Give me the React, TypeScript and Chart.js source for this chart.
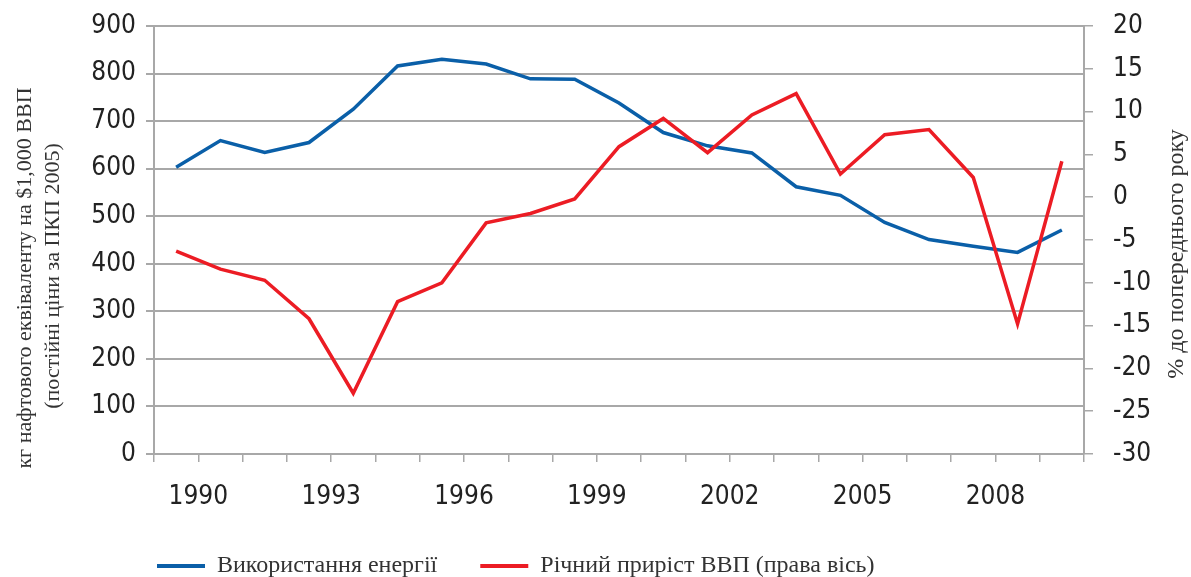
import React, { useEffect, useRef } from "react";
import { Chart, registerables } from "chart.js";

Chart.register(...registerables);

const years = [1990, 1991, 1992, 1993, 1994, 1995, 1996, 1997, 1998, 1999, 2000, 2001, 2002, 2003, 2004, 2005, 2006, 2007, 2008, 2009, 2010];
const energyUse = [603, 659, 634, 655, 725, 816, 830, 820, 789, 788, 738, 676, 648, 633, 562, 544, 487, 451, 437, 424, 471];
const gdpGrowth = [-6.3, -8.4, -9.7, -14.2, -22.9, -12.2, -10.0, -3.0, -1.9, -0.2, 5.9, 9.2, 5.2, 9.6, 12.1, 2.7, 7.3, 7.9, 2.3, -14.8, 4.2];
const xTickLabels = ["1990", "1993", "1996", "1999", "2002", "2005", "2008"];
const leftTicks = [0, 100, 200, 300, 400, 500, 600, 700, 800, 900];
const rightTicks = [-30, -25, -20, -15, -10, -5, 0, 5, 10, 15, 20];
const seriesNames = ["Використання енергії", "Річний приріст ВВП (права вісь)"];
const leftTitle = ["кг нафтового еквіваленту на $1,000 ВВП", "(постійні ціни за ПКП 2005)"];
const rightTitle = "% до попереднього року";

const BLUE = "#0a5fa8";
const RED = "#ec1c24";
const GRID = "#a8a8a8";
const TICK_FONT = "'Liberation Sans Narrow', 'DejaVu Sans Condensed', 'Roboto', sans-serif";
const TITLE_FONT = "'Liberation Serif', 'DejaVu Serif', serif";
const LEGEND_GAP = 43;

const titlePlugin = {
  id: "axisTitles",
  afterLayout(chart: any) {
    const lg = chart.legend;
    if (lg) {
      lg.left = 157 - LEGEND_GAP;
      lg.top = 566 - LEGEND_GAP - 12;
    }
  },
  afterDraw(chart: any) {
    const ctx = chart.ctx;
    const area = chart.chartArea;
    ctx.save();
    ctx.fillStyle = "#333";
    ctx.textAlign = "center";
    ctx.textBaseline = "middle";
    const cy = area.top + (area.bottom - area.top) / 2 + 38;
    ctx.font = `22px ${TITLE_FONT}`;
    ctx.save();
    ctx.translate(25, cy);
    ctx.rotate(-Math.PI / 2);
    ctx.fillText(leftTitle[0], 0, 0);
    ctx.restore();
    ctx.save();
    ctx.translate(53, cy - 2);
    ctx.rotate(-Math.PI / 2);
    ctx.fillText(leftTitle[1], 0, 0);
    ctx.restore();
    ctx.font = `24px ${TITLE_FONT}`;
    ctx.save();
    ctx.translate(1177, 254);
    ctx.rotate(-Math.PI / 2);
    ctx.fillText(rightTitle, 0, 0);
    ctx.restore();
    ctx.restore();
  },
};

export default function App() {
  const ref = useRef<HTMLCanvasElement>(null);
  useEffect(() => {
    if (!ref.current) return;
    const chart = new Chart(ref.current, {
      type: "line",
      data: {
        datasets: [
          {
            label: seriesNames[0],
            data: energyUse.map((v, i) => ({ x: i + 0.5, y: v, year: years[i] })),
            borderColor: BLUE,
            backgroundColor: BLUE,
            borderWidth: 3.5,
            pointRadius: 0,
            yAxisID: "y",
            order: 2,
          },
          {
            label: seriesNames[1],
            data: gdpGrowth.map((v, i) => ({ x: i + 0.5, y: v, year: years[i] })),
            borderColor: RED,
            backgroundColor: RED,
            borderWidth: 3.5,
            pointRadius: 0,
            yAxisID: "y1",
            order: 1,
          },
        ],
      },
      options: {
        responsive: false,
        animation: false,
        layout: { padding: { top: 26, left: 0, right: 0, bottom: 0 } },
        plugins: {
          tooltip: { enabled: false },
          legend: {
            position: "bottom",
            align: "start",
            maxHeight: 34,
            labels: {
              color: "#333",
              font: { family: TITLE_FONT, size: 24 },
              boxWidth: 48,
              boxHeight: 4,
              padding: LEGEND_GAP,
              sort: (a: any, b: any) => a.datasetIndex - b.datasetIndex,
              generateLabels: (chart: any) =>
                Chart.defaults.plugins.legend.labels
                  .generateLabels(chart)
                  .map((l: any) => ({ ...l, lineWidth: 0 })),
            },
          },
        },
        scales: {
          x: {
            type: "linear",
            min: 0,
            max: 21,
            afterBuildTicks: (s: any) => {
              s.ticks = Array.from({ length: 22 }, (_, k) => ({ value: k }));
            },
            afterFit: (s: any) => {
              s.height = 89;
            },
            ticks: {
              autoSkip: false,
              maxRotation: 0,
              color: "#222",
              font: { family: TICK_FONT, size: 26 },
              padding: 20,
              callback: (v: any) => {
                const k = Number(v);
                return k % 3 === 1 && k <= 19 ? xTickLabels[(k - 1) / 3] : "";
              },
            },
            grid: { drawOnChartArea: false, drawTicks: true, tickLength: 8, color: GRID, lineWidth: 1.5 },
            border: { display: true, color: GRID, width: 2 },
          },
          y: {
            position: "left",
            min: 0,
            max: 900,
            afterBuildTicks: (s: any) => {
              s.ticks = leftTicks.map((v) => ({ value: v }));
            },
            afterFit: (s: any) => {
              s.width = 154;
              s.paddingTop = 0;
              s.paddingBottom = 0;
            },
            ticks: {
              color: "#222",
              font: { family: TICK_FONT, size: 26 },
              padding: 10,
            },
            grid: { color: GRID, lineWidth: 2, tickLength: 8 },
            border: { display: true, color: GRID, width: 2 },
          },
          y1: {
            position: "right",
            min: -30,
            max: 20,
            afterBuildTicks: (s: any) => {
              s.ticks = rightTicks.map((v) => ({ value: v }));
            },
            afterFit: (s: any) => {
              s.width = 107;
              s.paddingTop = 0;
              s.paddingBottom = 0;
            },
            ticks: {
              color: "#222",
              font: { family: TICK_FONT, size: 26 },
              padding: 20,
            },
            grid: { drawOnChartArea: false, color: GRID, lineWidth: 1.5, tickLength: 9 },
            border: { display: true, color: GRID, width: 2 },
          },
        },
      },
      plugins: [titlePlugin],
    });
    return () => chart.destroy();
  }, []);
  return (
    <div style={{ position: "fixed", left: 0, top: 0, width: 1191, height: 577, background: "#fff" }}>
      <canvas ref={ref} width={1191} height={577} />
    </div>
  );
}
